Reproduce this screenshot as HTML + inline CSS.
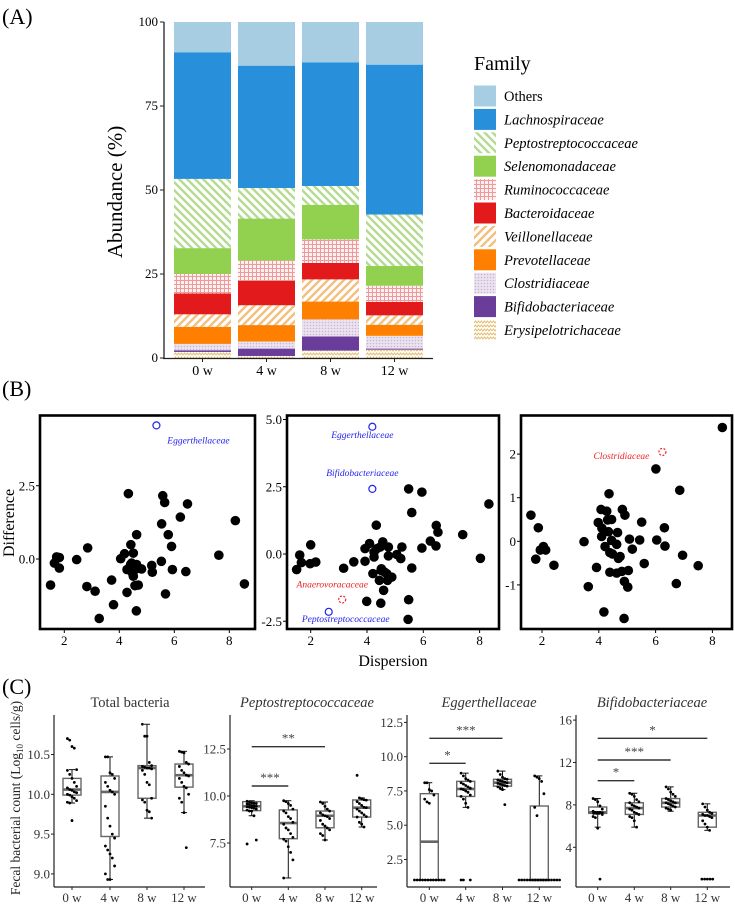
<!DOCTYPE html>
<html><head><meta charset="utf-8"><style>
html,body{margin:0;padding:0;background:#fff;}
svg{display:block;}
svg text, svg tspan{font-family:"Liberation Serif","DejaVu Serif",serif;}
</style></head><body>
<svg id="fig" width="735" height="910" viewBox="0 0 735 910" xmlns="http://www.w3.org/2000/svg" font-family="Liberation Serif, DejaVu Serif, serif">
<defs>
<pattern id="pPep" patternUnits="userSpaceOnUse" width="8" height="8"><rect width="8" height="8" fill="#fff"/><path d="M-2,-2 L10,10 M-2,6 L2,10 M6,-2 L10,2" stroke="#b5da92" stroke-width="2.4"/></pattern>
<pattern id="pVei" patternUnits="userSpaceOnUse" width="8" height="8"><rect width="8" height="8" fill="#fff"/><path d="M-2,10 L10,-2 M-2,2 L2,-2 M6,10 L10,6" stroke="#f3c07e" stroke-width="2.4"/></pattern>
<pattern id="pRum" patternUnits="userSpaceOnUse" width="4" height="4"><rect width="4" height="4" fill="#fdf0f0"/><path d="M0,0.5 H4 M0.5,0 V4" stroke="#ef9a9a" stroke-width="1"/></pattern>
<pattern id="pClo" patternUnits="userSpaceOnUse" width="3" height="3"><rect width="3" height="3" fill="#ebe4f0"/><circle cx="1.5" cy="1.5" r="0.8" fill="#c7b6d4"/></pattern>
<pattern id="pEry" patternUnits="userSpaceOnUse" width="6" height="4"><rect width="6" height="4" fill="#fff"/><path d="M0,3 L1.5,1 L3,3 L4.5,1 L6,3" stroke="#e3bd72" stroke-width="1" fill="none"/></pattern>
</defs>
<g id="gA"></g><g id="gB"></g><g id="gC"></g>
</svg>
<script>
// ---------- Panel A data ----------
const weeksA = ["0 w","4 w","8 w","12 w"];
const families = ["Others","Lachnospiraceae","Peptostreptococcaceae","Selenomonadaceae","Ruminococcaceae","Bacteroidaceae","Veillonellaceae","Prevotellaceae","Clostridiaceae","Bifidobacteriaceae","Erysipelotrichaceae"];
const famFills = ["#a6cde2","#288fda","url(#pPep)","#91d14f","url(#pRum)","#e31a1c","url(#pVei)","#ff7f00","url(#pClo)","#6a3d9a","url(#pEry)"];
const erysipelotrichaceae = [1.8,0.6,2.2,2.5];
const bifidobacteriaceae = [0.5,2.2,4.2,0.3];
const clostridiaceae = [1.9,2.1,5.1,3.8];
const prevotellaceae = [5.1,4.9,5.3,3.3];
const veillonellaceae = [3.7,5.9,6.6,2.8];
const bacteroidaceae = [6.2,7.3,4.9,4.0];
const ruminococcaceae = [5.8,6.0,7.0,4.8];
const selenomonadaceae = [7.7,12.5,10.3,5.9];
const peptostreptococcaceae = [20.6,9.1,5.6,15.3];
const lachnospiraceae = [37.7,36.4,36.8,44.6];
const others = [9.0,13.0,12.0,12.7];
const ticksA = [0,25,50,75,100];

// ---------- Panel B data ----------
const b1x=[1.50,1.64,1.72,1.82,1.82,2.45,2.85,2.82,3.12,3.27,3.72,3.79,4.05,4.19,4.28,4.28,4.33,4.42,4.45,4.51,4.48,4.57,4.63,4.51,4.41,4.69,4.81,4.51,4.63,4.57,4.69,4.62,5.18,5.20,5.53,5.54,5.58,5.65,5.68,5.78,5.90,5.93,6.42,6.22,6.48,7.62,8.22,8.55];
const b1y=[-0.89,-0.14,0.07,0.05,-0.31,-0.02,0.38,-0.94,-1.10,-2.03,-0.72,-1.56,0.01,0.18,-0.36,-1.14,2.23,0.49,-0.14,-0.25,-0.48,-0.36,-0.19,-0.59,-0.19,-0.31,-0.34,0.20,0.83,-0.91,-0.89,-1.77,-0.22,-0.45,-0.08,1.20,2.16,1.93,-1.19,0.83,0.43,-0.36,-0.43,1.43,1.88,0.13,1.31,-0.85];
const b1hlName=["Eggerthellaceae"], b1hlX=[5.35], b1hlY=[4.56];
const b2x=[1.50,1.61,1.67,2.00,1.98,2.18,3.17,3.53,3.93,3.93,4.09,4.25,4.21,4.33,4.25,4.35,4.47,4.56,4.44,4.50,4.59,4.51,4.62,4.70,4.76,4.76,4.88,4.73,5.06,5.24,5.20,5.48,5.59,5.59,5.48,5.46,5.95,5.95,6.25,6.46,6.45,6.52,7.40,8.03,8.33,3.99,4.49];
const b2y=[-0.58,-0.04,-0.32,0.34,-0.36,-0.30,-0.53,-0.29,0.20,-0.27,0.39,0.07,-0.73,1.07,-0.11,0.20,0.26,0.45,-0.98,-0.61,-1.35,-0.55,-0.67,-0.73,0.26,-0.07,-0.86,-0.98,-0.02,0.26,-0.17,2.42,1.54,-0.52,-1.70,-2.43,2.30,0.22,0.48,1.06,0.30,0.81,0.72,-0.16,1.86,-1.76,-1.83];
const b2hlName=["Eggerthellaceae","Bifidobacteriaceae","Anaerovoracaceae","Peptostreptococcaceae"], b2hlX=[4.19,4.19,3.12,2.64], b2hlY=[4.73,2.42,-1.69,-2.15];
const b3x=[1.61,1.87,1.78,1.94,2.05,2.13,2.42,3.48,3.63,3.92,3.98,4.08,4.11,4.10,4.22,4.28,4.31,4.36,4.34,4.39,4.45,4.45,4.48,4.63,4.66,4.69,4.75,4.39,4.63,4.81,4.83,4.92,4.90,5.02,5.04,5.08,5.18,5.44,5.51,5.60,6.01,6.04,6.31,6.33,6.73,6.85,6.95,7.50,8.35,4.18,4.89];
const b3y=[0.60,0.31,-0.41,-0.20,-0.12,-0.20,-0.55,-0.01,-1.04,-0.60,0.43,0.73,0.30,0.11,-0.12,0.69,0.49,1.09,0.22,-0.26,0.50,0.02,-0.29,-0.07,0.20,-0.39,-0.35,-0.71,-0.73,-0.69,0.73,0.60,-0.92,-1.05,-0.67,0.05,-0.18,0.03,0.44,-0.51,1.66,0.03,0.31,-0.11,-0.97,1.17,-0.32,-0.56,2.61,-1.62,-1.77];
const b3hlName=["Clostridiaceae"], b3hlX=[6.24], b3hlY=[2.05];

// ---------- Panel C data ----------
const weeksC = ["0 w","4 w","8 w","12 w"];
const totQ1=[9.99,9.47,9.95,10.09], totMed=[10.06,10.03,10.33,10.24], totQ3=[10.2,10.23,10.36,10.38], totLo=[9.89,8.93,9.7,9.77], totHi=[10.31,10.47,10.88,10.54];
const tot0=[10.7,10.68,10.6,10.58,10.31,10.3,10.25,10.2,10.15,10.1,10.08,10.06,10.05,10.03,10.02,10.0,9.99,9.97,9.95,9.92,9.9,9.89,9.67];
const tot4=[10.47,10.47,10.27,10.25,10.2,10.15,10.1,10.05,10.03,10.0,9.85,9.7,9.6,9.5,9.45,9.35,9.3,9.25,9.2,9.1,9.0,8.93,8.93];
const tot8=[10.88,10.73,10.73,10.4,10.36,10.35,10.34,10.33,10.33,10.32,10.3,10.25,10.15,10.12,9.95,9.93,9.9,9.8,9.78,9.7];
const tot12=[10.54,10.53,10.52,10.4,10.38,10.35,10.3,10.27,10.24,10.23,10.2,10.15,10.1,10.08,10.0,9.95,9.9,9.77,9.33];
const pepQ1=[9.22,7.73,8.31,8.88], pepMed=[9.45,8.56,8.95,9.38], pepQ3=[9.7,9.26,9.2,9.79], pepLo=[8.95,5.64,7.66,8.35], pepHi=[9.75,9.75,9.68,9.9];
const pep0=[9.72,9.68,9.65,9.62,9.6,9.58,9.55,9.5,9.48,9.45,9.43,9.4,9.38,9.35,9.3,9.25,9.2,9.2,8.95,7.66,7.45];
const pep4=[9.75,9.7,9.6,9.5,9.3,9.2,9.1,8.9,8.8,8.6,8.5,8.3,8.2,8.0,7.8,7.7,7.6,7.3,7.0,6.6,5.64];
const pep8=[9.68,9.6,9.45,9.3,9.2,9.1,9.0,8.95,8.9,8.8,8.7,8.5,8.4,8.3,8.2,8.0,7.9,7.66];
const pep12=[11.1,9.9,9.85,9.8,9.78,9.7,9.6,9.5,9.4,9.38,9.3,9.2,9.1,9.0,8.9,8.88,8.6,8.5,8.35];
const eggQ1=[1.0,7.1,7.85,1.0], eggMed=[3.8,7.65,8.1,1.0], eggQ3=[7.3,8.2,8.35,6.4], eggLo=[1.0,6.3,7.6,1.0], eggHi=[8.1,8.8,8.95,8.6];
const egg0=[8.1,8.1,7.6,7.5,7.2,6.9,6.7,6.6,1,1,1,1,1,1,1,1,1,1,1,1];
const egg4=[8.8,8.6,8.4,8.3,8.2,8.1,8.0,7.9,7.8,7.7,7.65,7.6,7.5,7.4,7.2,7.1,6.9,6.6,6.3,1,1,1];
const egg8=[8.95,8.7,8.5,8.4,8.35,8.3,8.25,8.2,8.15,8.1,8.05,8.0,7.95,7.9,7.85,7.8,7.7,7.6,6.5];
const egg12=[8.6,8.5,8.4,8.2,7.3,6.3,5.7,1,1,1,1,1,1,1,1,1,1,1,1,1,1,1,1];
const bifQ1=[7.2,7.1,7.8,5.9], bifMed=[7.3,7.7,8.2,7.0], bifQ3=[7.8,8.2,8.6,7.3], bifLo=[5.9,5.9,7.4,5.6], bifHi=[8.6,9.1,9.7,8.1];
const bif0=[8.6,8.5,8.3,7.9,7.6,7.4,7.3,7.3,7.3,7.25,7.2,7.2,7.2,7.2,7.1,6.9,6.8,5.8,1.0];
const bif4=[9.1,9.0,8.8,8.5,8.3,8.2,8.0,7.9,7.8,7.7,7.6,7.5,7.3,7.2,7.1,6.9,6.8,6.5,5.9];
const bif8=[9.7,9.5,9.2,9.0,8.8,8.6,8.5,8.4,8.3,8.2,8.2,8.1,8.0,7.9,7.8,7.7,7.6,7.5];
const bif12=[8.1,7.8,7.5,7.3,7.2,7.1,7.0,7.0,6.9,6.8,6.5,6.2,5.9,5.6,1,1,1,1,1];

const NS="http://www.w3.org/2000/svg";
function mk(parent,tag,attrs,text){const e=document.createElementNS(NS,tag);for(const k in attrs)e.setAttribute(k,attrs[k]);if(text!==undefined)e.textContent=text;parent.appendChild(e);return e;}

// ===== Panel A =====
const gA=document.getElementById('gA');
const aLab=mk(gA,'text',{x:2,y:24,'font-size':22},'(A)');


const yA=v=>358-v*3.36;
const barX=[174,238,302,366], barW=57;
const seriesA=[others,lachnospiraceae,peptostreptococcaceae,selenomonadaceae,ruminococcaceae,bacteroidaceae,veillonellaceae,prevotellaceae,clostridiaceae,bifidobacteriaceae,erysipelotrichaceae];
for(let w=0;w<weeksA.length;w++){
  let cum=0;
  for(let f=families.length-1;f>=0;f--){
    const v=seriesA[f][w];
    const r=mk(gA,'rect',{x:barX[w],y:yA(cum+v),width:barW,height:v*3.36,fill:famFills[f]});
    
    
    cum+=v;
  }
  const t=mk(gA,'text',{x:barX[w]+barW/2,y:375,'font-size':14,'text-anchor':'middle'},weeksA[w]);
  
  
}
mk(gA,'line',{x1:164,y1:22,x2:164,y2:358.5,stroke:'#222','stroke-width':1.3});
mk(gA,'line',{x1:163,y1:358.5,x2:433,y2:358.5,stroke:'#222','stroke-width':1.3});
ticksA.forEach(t=>{mk(gA,'line',{x1:160,y1:yA(t),x2:164,y2:yA(t),stroke:'#222'});
 const l=mk(gA,'text',{x:158,y:yA(t)+4,'font-size':13,'text-anchor':'end'},t);
 
 });
barX.forEach(x=>mk(gA,'line',{x1:x+barW/2,y1:358,x2:x+barW/2,y2:362,stroke:'#222'}));
const aY=mk(gA,'text',{x:0,y:0,'font-size':21,'text-anchor':'middle',transform:'translate(122,192) rotate(-90)'},'Abundance (%)');


const legT=mk(gA,'text',{x:474,y:70,'font-size':20},'Family');


families.forEach((f,i)=>{
  const cy=96+i*23.4;
  const g=mk(gA,'g',{});
  
  
  mk(g,'rect',{x:474,y:cy-10.5,width:22,height:21,fill:famFills[i]});
  mk(g,'text',{x:504,y:cy+5,'font-size':14.5,'font-style':i===0?'normal':'italic'},f);
});

// ===== Panel B =====
const gB=document.getElementById('gB');
const bLab=mk(gB,'text',{x:2,y:396,'font-size':22},'(B)');


const frames=[
 {l:40,r:255,x0:64.3,xs:27.5,y0:559,ys:29.3,yt:[0,2.5],yfmt:1,xs_:b1x,ys_:b1y,hn:b1hlName,hx:b1hlX,hy:b1hlY},
 {l:287,r:499,x0:310.7,xs:28.15,y0:554,ys:26.9,yt:[-2.5,0,2.5,5],yfmt:1,xs_:b2x,ys_:b2y,hn:b2hlName,hx:b2hlX,hy:b2hlY},
 {l:521,r:732,x0:542,xs:28.4,y0:541.3,ys:43.6,yt:[-1,0,1,2],yfmt:0,xs_:b3x,ys_:b3y,hn:b3hlName,hx:b3hlX,hy:b3hlY}];
const hlColor={"Eggerthellaceae":"#2222ee","Bifidobacteriaceae":"#2222ee","Peptostreptococcaceae":"#2222ee","Anaerovoracaceae":"#ee2222","Clostridiaceae":"#ee2222"};
const hlLab={"0-Eggerthellaceae":[42,18],"1-Eggerthellaceae":[-10,11],"1-Bifidobacteriaceae":[-10,-13],"1-Anaerovoracaceae":[-10,-12],"1-Peptostreptococcaceae":[17,10],"2-Clostridiaceae":[-41,7]};
frames.forEach((F,fi)=>{
  const g=mk(gB,'g',{});
  
  
  const X=v=>F.x0+(v-2)*F.xs, Y=v=>F.y0-v*F.ys;
  mk(g,'rect',{x:F.l,y:415.5,width:F.r-F.l,height:213.5,fill:'none',stroke:'#000','stroke-width':2.6});
  F.xs_.forEach((xv,i)=>{const c=mk(g,'circle',{cx:X(xv),cy:Y(F.ys_[i]),r:4.8,fill:'#000'});
    
    });
  F.hn.forEach((n,i)=>{
    const col=hlColor[n];
    const c=mk(g,'circle',{cx:X(F.hx[i]),cy:Y(F.hy[i]),r:3.5,fill:'none',stroke:col,'stroke-width':1.2,'stroke-dasharray':col==='#ee2222'?'2,1.5':'none'});
    
    
    const o=hlLab[fi+'-'+n];
    const t=mk(g,'text',{x:X(F.hx[i])+o[0],y:Y(F.hy[i])+o[1],'font-size':9.5,'font-style':'italic',fill:col,'text-anchor':'middle'},n);
    
    
  });
  [2,4,6,8].forEach(v=>{mk(g,'line',{x1:X(v),y1:629,x2:X(v),y2:633,stroke:'#000'});
    const t=mk(g,'text',{x:X(v),y:645,'font-size':13,'text-anchor':'middle'},v);
    
    });
  F.yt.forEach(v=>{mk(g,'line',{x1:F.l-4,y1:Y(v),x2:F.l,y2:Y(v),stroke:'#000'});
    const t=mk(g,'text',{x:F.l-5,y:Y(v)+4.5,'font-size':13,'text-anchor':'end'},F.yfmt?v.toFixed(1):v);
    
    });
});
const bX=mk(gB,'text',{x:393,y:666,'font-size':16,'text-anchor':'middle'},'Dispersion');


const bY=mk(gB,'text',{x:0,y:0,'font-size':16,'text-anchor':'middle',transform:'translate(14,523) rotate(-90)'},'Difference');



// ===== Panel C =====
const gC=document.getElementById('gC');
const cLab=mk(gC,'text',{x:2,y:694,'font-size':22},'(C)');


const cY=mk(gC,'text',{x:0,y:0,'font-size':13.5,'text-anchor':'middle',transform:'translate(20,798) rotate(-90)',fill:'#222'});


cY.innerHTML='Fecal bacterial count (Log<tspan font-size="9" dy="3">10</tspan><tspan dy="-3"> cells/g)</tspan>';
const panelsC=[
 {title:'Total bacteria',it:false,ax:54,end:205,cx:[72,110,147,184],yf:v=>794.3-(v-10)*79.6,ticks:[9.0,9.5,10.0,10.5],fmt:1,q1:totQ1,med:totMed,q3:totQ3,lo:totLo,hi:totHi,pts:[tot0,tot4,tot8,tot12],sig:[],tx:130},
 {title:'Peptostreptococcaceae',it:true,ax:230,end:377,cx:[251.7,288.3,325,361.7],yf:v=>796-(v-10)*18.8,ticks:[7.5,10.0,12.5],fmt:1,q1:pepQ1,med:pepMed,q3:pepQ3,lo:pepLo,hi:pepHi,pts:[pep0,pep4,pep8,pep12],sig:[[0,1,786,'***'],[0,2,746.7,'**']],tx:307},
 {title:'Eggerthellaceae',it:true,ax:407,end:561,cx:[429.3,465.7,502.5,539.3],yf:v=>756.7-(v-10)*13.7,ticks:[2.5,5.0,7.5,10.0,12.5],fmt:1,q1:eggQ1,med:eggMed,q3:eggQ3,lo:eggLo,hi:eggHi,pts:[egg0,egg4,egg8,egg12],sig:[[0,1,763.3,'*'],[0,2,738.3,'***']],tx:489},
 {title:'Bifidobacteriaceae',it:true,ax:576,end:730,cx:[597.7,634.3,670.7,707.3],yf:v=>889.7-v*10.6,ticks:[4,8,12,16],fmt:0,q1:bifQ1,med:bifMed,q3:bifQ3,lo:bifLo,hi:bifHi,pts:[bif0,bif4,bif8,bif12],sig:[[0,1,780.7,'*'],[0,2,760,'***'],[0,3,738.3,'*']],tx:652}];
panelsC.forEach((P,pi)=>{
  const g=mk(gC,'g',{});
  
  
  const tt=mk(g,'text',{x:P.tx,y:707,'font-size':14.5,'text-anchor':'middle','font-style':P.it?'italic':'normal',fill:'#333'},P.title);
  
  
  mk(g,'line',{x1:P.ax,y1:715,x2:P.ax,y2:887,stroke:'#222','stroke-width':1.2});
  mk(g,'line',{x1:P.ax,y1:887,x2:P.end,y2:887,stroke:'#222','stroke-width':1.2});
  P.ticks.forEach(v=>{mk(g,'line',{x1:P.ax-3,y1:P.yf(v),x2:P.ax,y2:P.yf(v),stroke:'#222'});
    const t=mk(g,'text',{x:P.ax-4,y:P.yf(v)+4.5,'font-size':13,'text-anchor':'end',fill:'#333'},P.fmt?v.toFixed(1):v);
    
    });
  P.cx.forEach((x,i)=>{
    mk(g,'line',{x1:x,y1:887,x2:x,y2:890,stroke:'#222'});
    const t=mk(g,'text',{x:x,y:902,'font-size':13,'text-anchor':'middle',fill:'#333'},weeksC[i]);
    
    
    const y=P.yf;
    mk(g,'line',{x1:x,y1:y(P.hi[i]),x2:x,y2:y(P.q3[i]),stroke:'#111','stroke-width':1});
    mk(g,'line',{x1:x,y1:y(P.q1[i]),x2:x,y2:y(P.lo[i]),stroke:'#111','stroke-width':1});
    mk(g,'line',{x1:x-3,y1:y(P.hi[i]),x2:x+3,y2:y(P.hi[i]),stroke:'#111'});
    mk(g,'line',{x1:x-3,y1:y(P.lo[i]),x2:x+3,y2:y(P.lo[i]),stroke:'#111'});
    const b=mk(g,'rect',{x:x-9,y:y(P.q3[i]),width:18,height:Math.max(0.5,y(P.q1[i])-y(P.q3[i])),fill:'#fff',stroke:'#666','stroke-width':1.4});
    
    
    mk(g,'line',{x1:x-9,y1:y(P.med[i]),x2:x+9,y2:y(P.med[i]),stroke:'#666','stroke-width':2.6});
    const vals=P.pts[i];
    const counts={},seen={};
    vals.forEach(v=>counts[v]=(counts[v]||0)+1);
    vals.forEach((v,k)=>{
      let off;
      if(counts[v]>3){seen[v]=(seen[v]||0);off=(seen[v]-(counts[v]-1)/2)*2.7;seen[v]++;}
      else off=((k%5)-2)*2.3;
      const d=mk(g,'circle',{cx:x+off,cy:y(v),r:1.4,fill:'#000'});
      
      
    });
  });
  P.sig.forEach(s=>{
    mk(g,'line',{x1:P.cx[s[0]],y1:s[2],x2:P.cx[s[1]],y2:s[2],stroke:'#333','stroke-width':1.4});
    const t=mk(g,'text',{x:(P.cx[s[0]]+P.cx[s[1]])/2,y:s[2]-4,'font-size':13,'text-anchor':'middle',fill:'#444'},s[3]);
    
    
  });
});
</script>
</body></html>
